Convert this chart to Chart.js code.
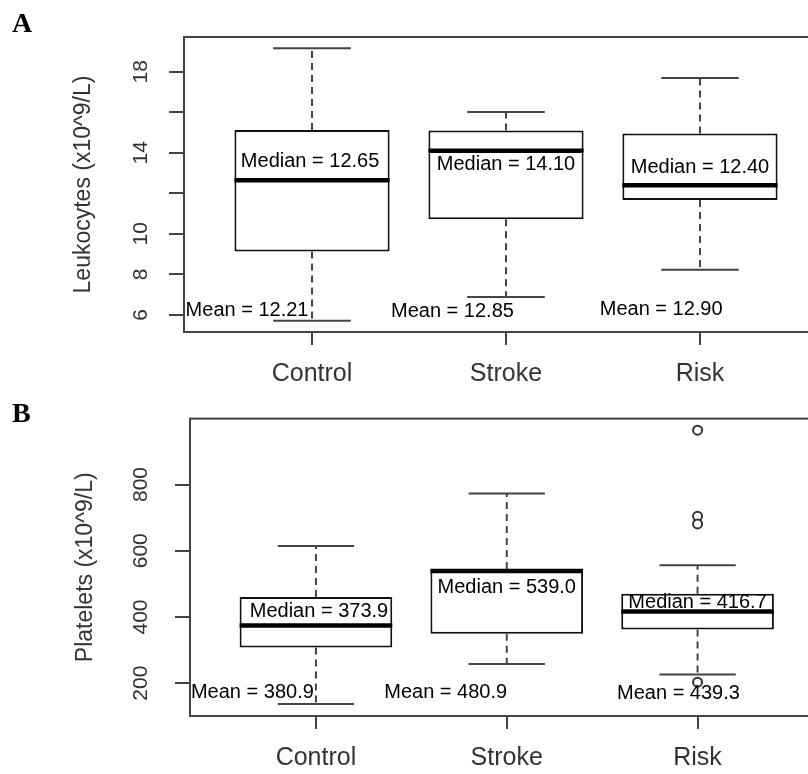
<!DOCTYPE html>
<html>
<head>
<meta charset="utf-8">
<script src="https://cdn.jsdelivr.net/npm/chart.js@4"></script>
<style>
  html, body { margin: 0; padding: 0; background: #fff; overflow: hidden; width: 808px; height: 774px; }
  .panel { position: absolute; left: 0; }
  .letter { position: absolute; font-family: "Liberation Serif", "Times New Roman", serif; font-weight: bold; font-size: 28px; line-height: 1; color: #000; }
</style>
</head>
<body>
<div class="panel" style="top:0px;"><canvas id="chartA" width="840" height="390"></canvas></div>
<div class="panel" style="top:390px;"><canvas id="chartB" width="840" height="384"></canvas></div>
<div class="letter" style="left:12px; top:9px;">A</div>
<div class="letter" style="left:12px; top:399px;">B</div>
<script>
// ---------- DATA ----------
const categories = ['Control', 'Stroke', 'Risk'];

// Panel A: Leukocytes (x10^9/L)
const leukoMin    = [5.70, 6.88, 8.23];
const leukoQ1     = [9.12, 10.72, 11.67];
const leukoMedian = [12.65, 14.10, 12.40];
const leukoQ3     = [15.13, 15.10, 14.95];
const leukoMax    = [19.17, 16.01, 17.69];
const leukoMean   = [12.21, 12.85, 12.90];
const leukoOutliers = [[], [], []];
const leukoTicks  = [6, 8, 10, 12, 14, 16, 18];
const leukoTickLabels = ['6', '8', '10', '', '14', '', '18'];
const leukoMedianLabelX = [0.99, 2.0, 3.0];
const leukoMedianLabelY = [13.55, 13.40, 13.27];
const leukoMeanLabelX = [0.665, 1.724, 2.80];
const leukoMeanLabelY = [6.23, 6.18, 6.28];

// Panel B: Platelets (x10^9/L)
const pltMin    = [137, 258, 226];
const pltQ1     = [307.5, 349, 362];
const pltMedian = [373.9, 539.0, 416.7];
const pltQ3     = [460, 545, 470];
const pltMax    = [614, 773, 556];
const pltMean   = [380.9, 480.9, 439.3];
const pltOutliers = [[], [], [964, 704, 681, 203]];
const pltTicks  = [200, 400, 600, 800];
const pltTickLabels = ['200', '400', '600', '800'];
const pltMedianLabelX = [1.016, 2.0, 3.0];
const pltMedianLabelY = [417, 489, 444];
const pltMeanLabelX = [0.667, 1.68, 2.90];
const pltMeanLabelY = [173, 173, 168];

// ---------- DRAWING ----------
Chart.defaults.font.family = '"Liberation Sans", Arial, sans-serif';
Chart.defaults.animation = false;

const boxExtras = {
  id: 'boxExtras',
  afterDatasetsDraw(chart, args, o) {
    const {ctx, chartArea: ca, scales: {x, y}} = chart;
    const line = (x1, y1, x2, y2) => { ctx.beginPath(); ctx.moveTo(x1, y1); ctx.lineTo(x2, y2); ctx.stroke(); };
    ctx.save();
    ctx.beginPath(); ctx.rect(ca.left, ca.top, ca.right - ca.left, ca.bottom - ca.top); ctx.clip();
    o.min.forEach((mn, i) => {
      const c = i + 1;
      const cx = x.getPixelForValue(c);
      ctx.strokeStyle = '#444'; ctx.lineWidth = 2;
      ctx.setLineDash([7, 5]);
      line(cx, y.getPixelForValue(o.q3[i]), cx, y.getPixelForValue(o.max[i]));
      line(cx, y.getPixelForValue(o.q1[i]), cx, y.getPixelForValue(mn));
      ctx.setLineDash([]);
      line(x.getPixelForValue(c - 0.2), y.getPixelForValue(o.max[i]), x.getPixelForValue(c + 0.2), y.getPixelForValue(o.max[i]));
      line(x.getPixelForValue(c - 0.2), y.getPixelForValue(mn), x.getPixelForValue(c + 0.2), y.getPixelForValue(mn));
      ctx.strokeStyle = '#000'; ctx.lineWidth = 4.5;
      line(x.getPixelForValue(c - 0.4), y.getPixelForValue(o.median[i]), x.getPixelForValue(c + 0.4), y.getPixelForValue(o.median[i]));
    });
    ctx.fillStyle = '#000';
    ctx.font = '20px "Liberation Sans", Arial, sans-serif';
    ctx.textAlign = 'center'; ctx.textBaseline = 'middle';
    o.median.forEach((m, i) => {
      ctx.fillText('Median = ' + m.toFixed(o.dec), x.getPixelForValue(o.medLX[i]), y.getPixelForValue(o.medLY[i]));
    });
    o.mean.forEach((m, i) => {
      ctx.fillText('Mean = ' + m.toFixed(o.dec), x.getPixelForValue(o.meanLX[i]), y.getPixelForValue(o.meanLY[i]));
    });
    ctx.restore();
  },
  afterDraw(chart) {
    const {ctx, chartArea: ca} = chart;
    ctx.save();
    ctx.strokeStyle = '#444'; ctx.lineWidth = 2;
    ctx.strokeRect(ca.left, ca.top, ca.right - ca.left, ca.bottom - ca.top);
    ctx.restore();
  }
};

function makeChart(id, d) {
  const outlierPts = [];
  d.outliers.forEach((arr, i) => arr.forEach(v => outlierPts.push({x: i + 1, y: v})));
  return new Chart(document.getElementById(id), {
    type: 'bar',
    data: {
      datasets: [
        {
          type: 'bar',
          data: categories.map((c, i) => ({x: i + 1, y: [d.q1[i], d.q3[i]]})),
          backgroundColor: '#fff',
          borderColor: '#111',
          borderWidth: 2,
          borderSkipped: false,
          barPercentage: 0.8,
          categoryPercentage: 1.0
        },
        {
          type: 'scatter',
          data: outlierPts,
          pointStyle: 'circle',
          pointRadius: 4.5,
          pointBorderWidth: 2,
          pointBackgroundColor: '#fff',
          pointBorderColor: '#333'
        }
      ]
    },
    options: {
      responsive: false,
      animation: false,
      layout: { padding: { top: d.padTop, right: d.padRight, left: 0, bottom: 0 } },
      plugins: {
        legend: { display: false },
        tooltip: { enabled: false },
        boxExtras: {
          min: d.min, q1: d.q1, median: d.median, q3: d.q3, max: d.max, mean: d.mean, dec: d.dec,
          medLX: d.medLX, medLY: d.medLY, meanLX: d.meanLX, meanLY: d.meanLY
        }
      },
      scales: {
        x: {
          type: 'linear',
          min: 0.34, max: 3.66,
          offset: false,
          afterBuildTicks: (s) => { s.ticks = categories.map((c, i) => ({value: i + 1})); },
          afterFit: (s) => { s.height = 58; },
          ticks: {
            callback: (v, idx) => categories[idx],
            autoSkip: false, maxRotation: 0, minRotation: 0,
            font: { size: 25 }, color: '#333', padding: 14
          },
          grid: { offset: false, drawOnChartArea: false, drawTicks: true, tickLength: 13, color: '#444', lineWidth: 2 },
          border: { display: false }
        },
        y: {
          type: 'linear',
          min: d.yMin, max: d.yMax,
          afterBuildTicks: (s) => { s.ticks = d.ticks.map(v => ({value: v})); },
          afterFit: (s) => { s.width = d.axisW; },
          ticks: {
            callback: (v, idx) => d.tickLabels[idx],
            autoSkip: false, minRotation: 90, maxRotation: 90, crossAlign: 'center',
            font: { size: 21 }, color: '#333', padding: d.tickPad
          },
          grid: { drawOnChartArea: false, drawTicks: true, tickLength: 15, color: '#444', lineWidth: 2 },
          border: { display: false },
          title: {
            display: true, text: d.title, color: '#333',
            font: { size: 23 }, padding: { top: d.titlePad, bottom: 0 }
          }
        }
      }
    },
    plugins: [boxExtras]
  });
}

makeChart('chartA', {
  min: leukoMin, q1: leukoQ1, median: leukoMedian, q3: leukoQ3, max: leukoMax, mean: leukoMean,
  outliers: leukoOutliers, ticks: leukoTicks, tickLabels: leukoTickLabels, dec: 2,
  medLX: leukoMedianLabelX, medLY: leukoMedianLabelY, meanLX: leukoMeanLabelX, meanLY: leukoMeanLabelY,
  yMin: 5.15, yMax: 19.72, axisW: 184, padTop: 37, padRight: 12, titlePad: 70, tickPad: 16,
  title: 'Leukocytes (x10^9/L)'
});

makeChart('chartB', {
  min: pltMin, q1: pltQ1, median: pltMedian, q3: pltQ3, max: pltMax, mean: pltMean,
  outliers: pltOutliers, ticks: pltTicks, tickLabels: pltTickLabels, dec: 1,
  medLX: pltMedianLabelX, medLY: pltMedianLabelY, meanLX: pltMeanLabelX, meanLY: pltMeanLabelY,
  yMin: 101, yMax: 999, axisW: 190, padTop: 25, padRight: 16.5, titlePad: 72, tickPad: 16,
  title: 'Platelets (x10^9/L)'
});
</script>
</body>
</html>
